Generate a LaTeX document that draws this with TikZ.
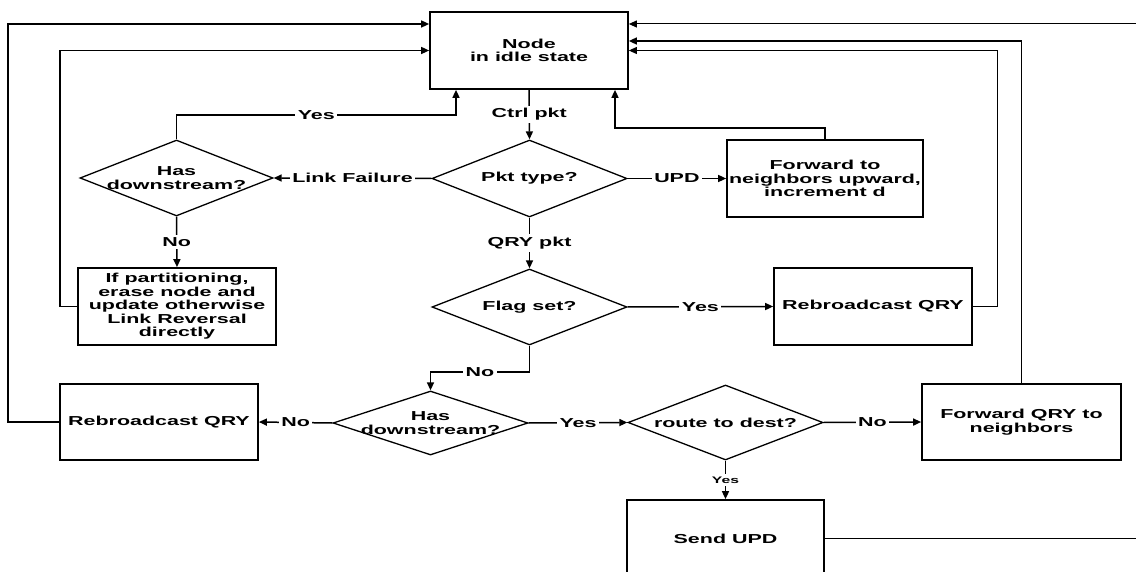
\documentclass[tikz,border=0pt]{standalone}
\usepackage{fontspec}
\setmainfont{Liberation Sans}[FakeStretch=1.65]
\usetikzlibrary{arrows.meta,shapes.geometric}
\begin{document}
\begin{tikzpicture}[x=1pt,y=-1pt,
  font=\bfseries\fontsize{13}{13.5}\selectfont,
  >={Triangle[length=8pt,width=7pt]},
  conn/.style={line width=1.5pt,->},
  thinconn/.style={line width=1pt,->},
  box/.style={draw,line width=1.7pt,minimum width=198pt,minimum height=77pt,align=center,inner sep=0pt},
  decision/.style={draw,diamond,line width=1.3pt,inner sep=0pt},
  txt/.style={align=center,inner sep=0pt},
  lbl/.style={fill=white,inner sep=2.5pt}]
\useasboundingbox (0,0) rectangle (1136,572);
\clip (0,0) rectangle (1136,572);

% boxes
\node[box] (idle) at (529,50.5) {Node\\in idle state};
\node[box,minimum width=196pt] (fwdup) at (825,178.5) {Forward to\\neighbors upward,\\increment d};
\node[box] (part) at (177,306.5) {If partitioning,\\erase node and\\update otherwise\\Link Reversal\\directly};
\node[box] (rbR) at (873,306.5) {Rebroadcast QRY};
\node[box,minimum height=76pt] (rbL) at (159,422) {Rebroadcast QRY};
\node[box,minimum width=199pt,minimum height=76pt] (fwdQ) at (1021.5,422) {Forward QRY to\\neighbors};
\node[box,minimum width=197pt,minimum height=77pt] (send) at (725.5,538.5) {Send UPD};

% decisions
\node[decision,minimum width=195pt,minimum height=77pt] (pkt) at (529.5,178.5) {};
\node[txt] (pkttxt) at (pkt) {Pkt type?};
\node[decision,minimum width=195pt,minimum height=76pt] (flag) at (529.5,307) {};
\node[txt] (flagtxt) at (flag) {Flag set?};
\node[decision,minimum width=193pt,minimum height=76pt] (hd1) at (176.5,178) {};
\node[txt] (hd1txt) at (hd1) {Has\\downstream?};
\node[decision,minimum width=195pt,minimum height=64pt] (hd2) at (430.5,423) {};
\node[txt] (hd2txt) at (hd2) {Has\\downstream?};
\node[decision,minimum width=195pt,minimum height=75pt] (route) at (725.5,422.5) {};
\node[txt] (routetxt) at (route) {route to dest?};

% helper coordinates
\coordinate (c1) at (456,115);
\coordinate (c2) at (529.5,372);
\coordinate (c4) at (615,128);
\coordinate (L1) at (8,24);
\coordinate (L2) at (60,50.5);
\coordinate (R2) at (997,50.5);
\coordinate (R1) at (1140,538.5);

% connectors
\draw[conn] (idle.south) -- node[lbl]{Ctrl pkt} (pkt.north);
\draw[conn] (pkt.west) -- node[lbl]{Link Failure} (hd1.east);
\draw[conn] (pkt.east) -- node[lbl]{UPD} (fwdup.west);
\draw[conn] (pkt.south) -- node[lbl]{QRY pkt} (flag.north);
\draw[conn] (hd1.north) |- node[lbl,pos=0.75]{Yes} (c1) -- (c1 |- idle.south);
\draw[conn] (hd1.south) -- node[lbl]{No} (part.north);
\draw[conn] (part.west) -| (L2) -- (idle.west);
\draw[conn] (flag.east) -- node[lbl]{Yes} (rbR.west);
\draw[conn] (flag.south) -- (c2) -| node[lbl,pos=0.25]{No} (hd2.north);
\draw[thinconn] (rbR.east) -| (R2) -- (idle.east);
\draw[conn] (fwdup.north) |- (c4) -- (c4 |- idle.south);
\draw[conn] (hd2.west) -- node[lbl]{No} (rbL.east);
\draw[conn] (hd2.east) -- node[lbl]{Yes} (route.west);
\draw[conn] (rbL.west) -| (L1) -- ([yshift=26.5pt]idle.west);
\draw[conn] (route.east) -- node[lbl]{No} (fwdQ.west);
\draw[conn] (route.south) -- node[lbl,font=\bfseries\fontsize{9.5}{10}\selectfont]{Yes} (send.north);
\draw[conn] (fwdQ.north) |- ([yshift=9.5pt]idle.east);
\draw[thinconn] (send.east) -- (R1) |- ([yshift=26.5pt]idle.east);
\end{tikzpicture}
\end{document}
